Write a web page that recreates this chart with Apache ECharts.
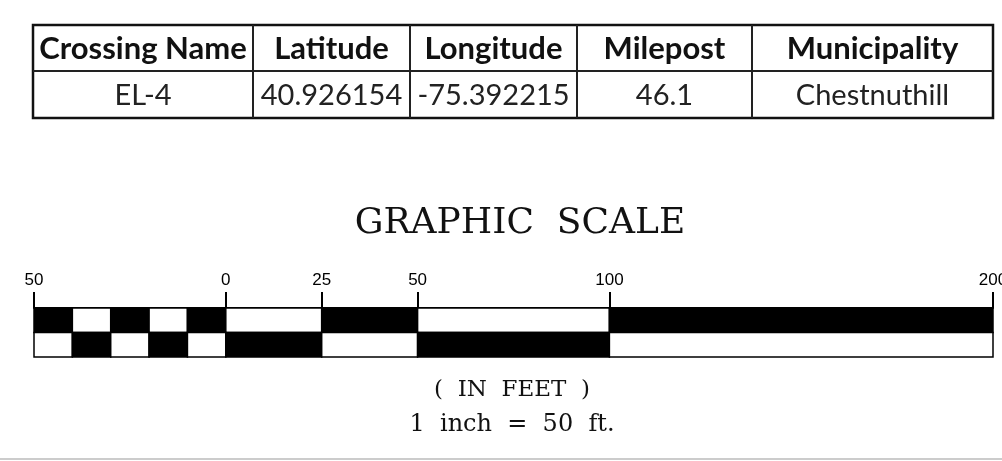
<!DOCTYPE html>
<html>
<head>
<meta charset="utf-8">
<script src="https://cdn.jsdelivr.net/npm/echarts@6/dist/echarts.min.js"></script>
<style>
  html, body { margin: 0; padding: 0; background: #fff; }
  #main { width: 1002px; height: 461px; }
</style>
</head>
<body>
<div id="main"></div>
<script>
// table contents
const tableHeaders = ['Crossing Name', 'Latitude', 'Longitude', 'Milepost', 'Municipality'];
const tableRow = ['EL-4', '40.926154', '-75.392215', '46.1', 'Chestnuthill'];

// graphic scale segments, in feet
const segStart = [-50, -40, -30, -20, -10, 0, 25, 50, 100];
const segEnd = [-40, -30, -20, -10, 0, 25, 50, 100, 200];
const scaleRows = ['top', 'bottom'];
const scaleTicks = [-50, 0, 25, 50, 100, 200];

const titleText = 'GRAPHIC  SCALE';
const unitText = '(  IN  FEET  )';
const ratioText = '1  inch  =  50  ft.';

// table layout
const colEdges = [33, 253, 410, 577, 752, 993];
const tableTop = 25, rowMid = 71, tableBottom = 118;

var myChart = echarts.init(document.getElementById('main'));

let graphics = [];
// outer frame and lines
graphics.push({
  type: 'rect', shape: { x: colEdges[0], y: tableTop, width: colEdges[5] - colEdges[0], height: tableBottom - tableTop },
  style: { fill: 'none', stroke: '#111', lineWidth: 2.5 }
});
graphics.push({
  type: 'line', shape: { x1: colEdges[0], y1: rowMid, x2: colEdges[5], y2: rowMid },
  style: { stroke: '#222', lineWidth: 2 }
});
for (let i = 1; i < colEdges.length - 1; i++) {
  graphics.push({
    type: 'line', shape: { x1: colEdges[i], y1: tableTop, x2: colEdges[i], y2: tableBottom },
    style: { stroke: '#222', lineWidth: 2 }
  });
}
for (let i = 0; i < tableHeaders.length; i++) {
  const cx = (colEdges[i] + colEdges[i + 1]) / 2;
  graphics.push({
    type: 'text', x: cx, y: (tableTop + rowMid) / 2 + 1,
    style: { text: tableHeaders[i], fill: '#111', font: 'bold 31px Lato', align: 'center', verticalAlign: 'middle' }
  });
  graphics.push({
    type: 'text', x: cx, y: (rowMid + tableBottom) / 2 + 1,
    style: { text: tableRow[i], fill: '#222', font: '29px Lato', align: 'center', verticalAlign: 'middle' }
  });
}
// titles
graphics.push({
  type: 'text', x: 520, y: 224,
  style: { text: titleText, fill: '#111', font: '36px "DejaVu Serif"', align: 'center', verticalAlign: 'middle' }
});
graphics.push({
  type: 'text', x: 512, y: 390,
  style: { text: unitText, fill: '#111', font: '23px "DejaVu Serif"', align: 'center', verticalAlign: 'middle' }
});
graphics.push({
  type: 'text', x: 512, y: 425,
  style: { text: ratioText, fill: '#111', font: '24px "DejaVu Serif"', align: 'center', verticalAlign: 'middle' }
});
graphics.push({
  type: 'rect', shape: { x: 0, y: 458, width: 1002, height: 2 },
  style: { fill: '#cccccc' }
});

let segData = [];
for (let r = 0; r < scaleRows.length; r++) {
  for (let i = 0; i < segStart.length; i++) {
    segData.push([segStart[i], segEnd[i], r, (i + r) % 2]);
  }
}

const option = {
  animation: false,
  grid: { left: 34, right: 9, top: 308, height: 49, containLabel: false, outerBoundsMode: 'none' },
  xAxis: {
    type: 'value', min: -50, max: 200, position: 'top',
    splitLine: { show: false },
    axisLine: { show: true, lineStyle: { color: '#000', width: 2 } },
    axisTick: { show: true, customValues: scaleTicks, length: 16, lineStyle: { color: '#000', width: 2 } },
    axisLabel: {
      customValues: scaleTicks, margin: 19, color: '#000', fontSize: 17, fontFamily: 'Liberation Sans',
      hideOverlap: false,
      formatter: function (v) { return String(Math.abs(v)); }
    }
  },
  yAxis: { type: 'category', data: scaleRows, inverse: true, show: false },
  series: [{
    type: 'custom',
    data: segData,
    encode: { x: [0, 1], y: 2 },
    renderItem: function (params, api) {
      const p0 = api.coord([api.value(0), api.value(2)]);
      const p1 = api.coord([api.value(1), api.value(2)]);
      const h = api.size([0, 1])[1];
      return {
        type: 'rect',
        shape: { x: p0[0], y: p0[1] - h / 2, width: p1[0] - p0[0], height: h },
        style: { fill: api.value(3) === 0 ? '#000' : '#fff', stroke: '#000', lineWidth: 1.5 }
      };
    }
  }],
  graphic: graphics
};
myChart.setOption(option);
</script>
</body>
</html>
